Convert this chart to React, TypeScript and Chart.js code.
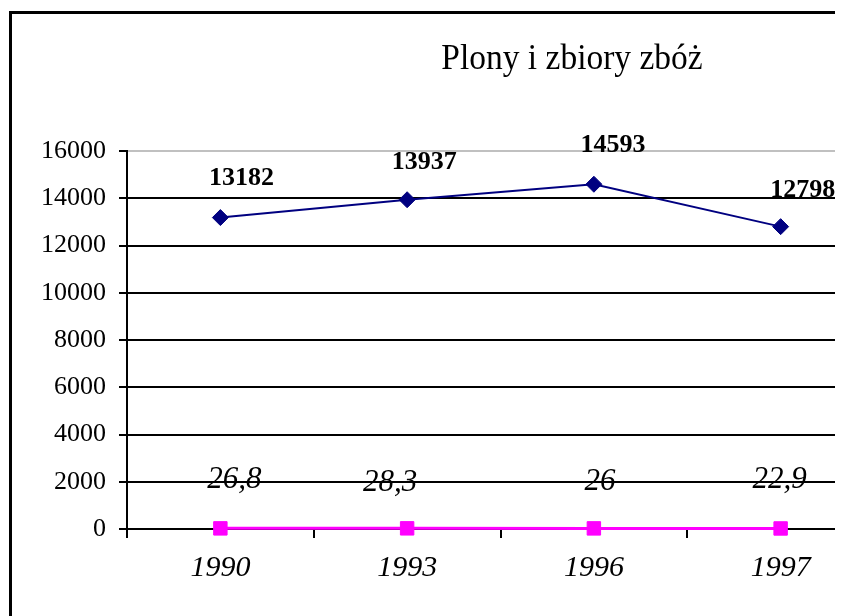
import React, { useEffect, useRef } from "react";
import { Chart, registerables } from "chart.js";

Chart.register(...registerables);

const categories = ["1990", "1993", "1996", "1997"];
const zbiory = [13182, 13937, 14593, 12798];
const plony = [26.8, 28.3, 26, 22.9];
const yMin = 0;
const yMax = 16000;
const yStep = 2000;
const title = "Plony i zbiory zbóż";

const serif = "'Times New Roman', 'Liberation Serif', serif";

const labelStyles = [
  {
    font: `bold 26px ${serif}`,
    dx: [21, 17, 19, 22],
    dy: [-39, -37, -39, -36],
    format: (v: number) => String(v),
  },
  {
    font: `italic 31px ${serif}`,
    dx: [14, -17, 6, -1],
    dy: [-49, -45, -47, -49],
    format: (v: number) => String(v).replace(".", ","),
  },
];

const valueLabels = {
  id: "valueLabels",
  afterDatasetsDraw(chart: any) {
    const ctx = chart.ctx;
    chart.data.datasets.forEach((ds: any, i: number) => {
      const meta = chart.getDatasetMeta(i);
      const st = labelStyles[i];
      meta.data.forEach((pt: any, j: number) => {
        ctx.save();
        ctx.font = st.font;
        ctx.fillStyle = "#000";
        ctx.textAlign = "center";
        ctx.textBaseline = "middle";
        ctx.fillText(st.format(ds.data[j]), pt.x + st.dx[j], pt.y + st.dy[j]);
        ctx.restore();
      });
    });
  },
};

const CW = 900;
const CH = 600;

export default function App() {
  const ref = useRef<HTMLCanvasElement | null>(null);
  useEffect(() => {
    if (!ref.current) return;
    const chart = new Chart(ref.current, {
      type: "line",
      data: {
        labels: categories,
        datasets: [
          {
            label: "Zbiory",
            data: zbiory,
            borderColor: "#000080",
            backgroundColor: "#000080",
            borderWidth: 2,
            pointStyle: "rectRot",
            pointRadius: 8,
            pointBorderWidth: 1,
            pointBackgroundColor: "#000080",
            pointBorderColor: "#000080",
            tension: 0,
            clip: false as any,
          },
          {
            label: "Plony",
            data: plony,
            borderColor: "#FF00FF",
            backgroundColor: "#FF00FF",
            borderWidth: 3,
            pointStyle: "rect",
            pointRadius: 9.5,
            pointBorderWidth: 1,
            pointBackgroundColor: "#FF00FF",
            pointBorderColor: "#FF00FF",
            tension: 0,
            clip: false as any,
          },
        ],
      },
      options: {
        responsive: false,
        animation: false,
        devicePixelRatio: 1,
        layout: { padding: { top: 137, right: CW - 862, bottom: 0, left: 0 } },
        plugins: {
          legend: { display: false },
          title: { display: false },
          tooltip: { enabled: false },
        },
        scales: {
          x: {
            type: "category",
            offset: true,
            grid: {
              offset: true,
              drawOnChartArea: false,
              drawTicks: true,
              tickLength: 9,
              color: "#000",
              lineWidth: 2,
            },
            border: { display: true, color: "#000", width: 2 },
            ticks: {
              color: "#000",
              padding: 12,
              font: { family: serif, size: 30, style: "italic" },
              maxRotation: 0,
              autoSkip: false,
            },
            afterFit: (s: any) => {
              s.height = CH - 515;
            },
          },
          y: {
            min: yMin,
            max: yMax,
            ticks: {
              stepSize: yStep,
              color: "#000",
              padding: 13,
              font: { family: serif, size: 26 },
              callback: (v: any) => String(v),
            },
            grid: {
              color: (c: any) => (c.tick && c.tick.value === yMax ? "#c0c0c0" : "#000"),
              tickColor: "#000",
              lineWidth: 2,
              tickLength: 8,
            },
            border: { display: true, color: "#000", width: 2 },
            afterFit: (s: any) => {
              s.width = 115;
            },
          },
        },
      },
      plugins: [valueLabels],
    });
    return () => chart.destroy();
  }, []);

  return (
    <div style={{ position: "relative", width: 835, height: 608, overflow: "hidden" }}>
      <div
        style={{
          position: "absolute",
          left: 1,
          top: 3,
          width: 1000,
          height: 800,
          border: "3px solid #000",
          background: "#fff",
        }}
      >
        <canvas ref={ref} width={CW} height={CH} style={{ display: "block", width: CW, height: CH }} />
      </div>
      <div
        style={{
          position: "absolute",
          left: 364,
          width: 400,
          top: 31,
          textAlign: "center",
          fontFamily: serif,
          fontSize: 36,
          lineHeight: "36px",
          color: "#000",
          whiteSpace: "nowrap",
          transform: "scaleX(0.93)",
          transformOrigin: "center",
        }}
      >
        {title}
      </div>
    </div>
  );
}
